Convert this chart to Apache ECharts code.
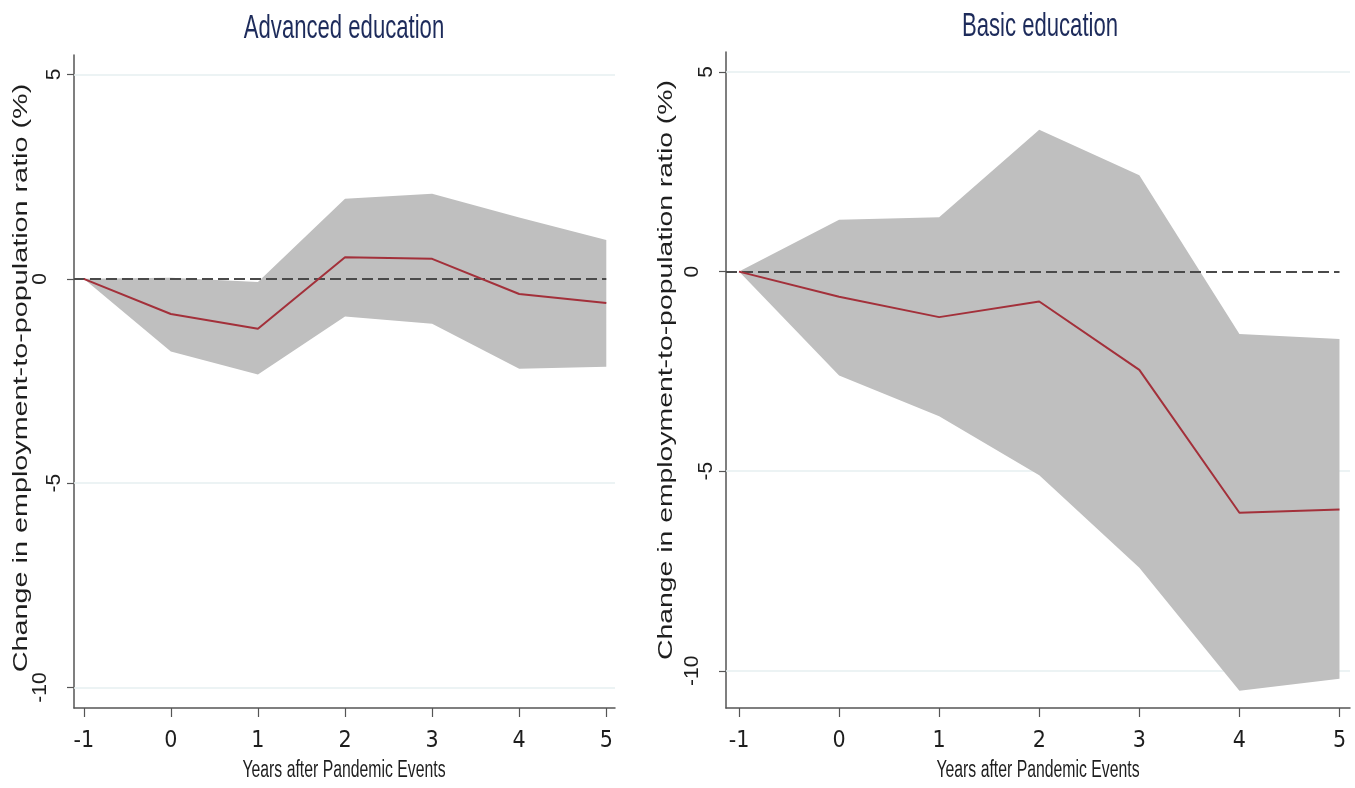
<!DOCTYPE html>
<html>
<head>
<meta charset="utf-8">
<script src="https://cdn.jsdelivr.net/npm/echarts@6/dist/echarts.min.js"></script>
<style>
html,body{margin:0;padding:0;background:#fff;}
#chart{width:1355px;height:788px;}
</style>
</head>
<body>
<div id="chart"></div>
<script>
// ---- data ----
const years = [-1, 0, 1, 2, 3, 4, 5];
const yTicks = [-10, -5, 0, 5];
const gridValues = [5, -5, -10];
const panelTitles = ['Advanced education', 'Basic education'];
const xTitle = 'Years after Pandemic Events';
const yTitle = 'Change in employment-to-population ratio (%)';

const advMean  = [0, -0.86, -1.22, 0.53, 0.49, -0.37, -0.59];
const advUpper = [0, 0.03, -0.08, 1.96, 2.08, 1.50, 0.95];
const advLower = [0, -1.78, -2.34, -0.92, -1.10, -2.20, -2.15];

const basMean  = [0, -0.63, -1.14, -0.75, -2.46, -6.04, -5.96];
const basUpper = [0, 1.30, 1.36, 3.55, 2.41, -1.56, -1.69];
const basLower = [0, -2.60, -3.62, -5.10, -7.42, -10.50, -10.20];

// ---- styling / layout ----
const AXIS_COLOR = '#555';
const BAND_COLOR = '#bfbfbf';
const MEAN_COLOR = '#a3303a';
const GRID_COLOR = '#e6eff0';
const TEXT_COLOR = '#1e1e1e';
const TITLE_COLOR = '#1d2b5b';
const NARROW = '"Liberation Sans Narrow", "DejaVu Sans Condensed", "Liberation Sans", Arial, sans-serif';
const SANS = '"Liberation Sans", Arial, sans-serif';

const panels = [
  {mean: advMean, upper: advUpper, lower: advLower,
   grid: {left: 74, top: 55, width: 541, height: 653},
   xMin: -1.112, xMax: 5.10, yMin: -10.50, yMax: 5.477},
  {mean: basMean, upper: basUpper, lower: basLower,
   grid: {left: 726, top: 52, width: 624, height: 656},
   xMin: -1.13, xMax: 5.105, yMin: -10.93, yMax: 5.50}
];

const pairs = (xs, ys) => xs.map((x, i) => [x, ys[i]]);

const grids = [], xAxes = [], yAxes = [], series = [];
panels.forEach((p, k) => {
  grids.push(p.grid);
  xAxes.push({
    type: 'value', gridIndex: k, min: p.xMin, max: p.xMax,
    axisLine: {show: true, onZero: false, lineStyle: {color: AXIS_COLOR, width: 1.5}},
    axisTick: {show: true, length: 9, customValues: years, lineStyle: {color: AXIS_COLOR, width: 1.2}},
    axisLabel: {show: true, customValues: years, margin: 22, fontFamily: NARROW, fontSize: 23, color: TEXT_COLOR},
    splitLine: {show: false}
  });
  yAxes.push({
    type: 'value', gridIndex: k, min: p.yMin, max: p.yMax,
    axisLine: {show: true, onZero: false, lineStyle: {color: AXIS_COLOR, width: 1.5}},
    axisTick: {show: true, length: 7, customValues: yTicks, lineStyle: {color: AXIS_COLOR, width: 1.2}},
    axisLabel: {
      show: true, customValues: yTicks, rotate: 90, margin: 9,
      formatter: v => (v === 0 || v === -10) ? '{far|' + v + '}' : '{near|' + v + '}',
      rich: {
        near: {fontFamily: SANS, fontSize: 21, color: TEXT_COLOR},
        far: {fontFamily: SANS, fontSize: 21, color: TEXT_COLOR, padding: [0, 0, 14, 0]}
      }
    },
    splitLine: {show: false}
  });
  // faint grid lines (under the band)
  series.push({
    type: 'line', xAxisIndex: k, yAxisIndex: k, z: 1, data: [], silent: true,
    markLine: {
      z: 1, silent: true, symbol: 'none', label: {show: false},
      lineStyle: {color: GRID_COLOR, width: 1.5, type: 'solid'},
      data: gridValues.map(v => ({yAxis: v}))
    }
  });
  // confidence band between lower and upper bounds
  series.push({
    type: 'custom', xAxisIndex: k, yAxisIndex: k, z: 2, silent: true,
    data: pairs(years, p.mean),
    encode: {x: 0, y: 1},
    renderItem: (params, api) => {
      if (params.dataIndex !== 0) return null;
      const top = years.map((x, i) => api.coord([x, p.upper[i]]));
      const bot = years.map((x, i) => api.coord([x, p.lower[i]])).reverse();
      return {type: 'polygon', shape: {points: top.concat(bot)}, style: {fill: BAND_COLOR}};
    }
  });
  // zero reference line
  series.push({
    type: 'line', xAxisIndex: k, yAxisIndex: k, z: 3, data: [], silent: true,
    markLine: {
      z: 3, silent: true, symbol: 'none', label: {show: false},
      lineStyle: {color: '#4a4a4a', width: 1.8, type: [11, 5]},
      data: [[{coord: [p.xMin, 0]}, {coord: [years[years.length - 1], 0]}]]
    }
  });
  // point estimate
  series.push({
    type: 'line', xAxisIndex: k, yAxisIndex: k, z: 4,
    data: pairs(years, p.mean), symbol: 'none', silent: true,
    lineStyle: {color: MEAN_COLOR, width: 2}
  });
});

const graphics = [
  {type: 'text', x: 344, y: 29, scaleX: 0.66,
   style: {text: panelTitles[0], font: '33.5px ' + SANS, fill: TITLE_COLOR, align: 'center', verticalAlign: 'middle', textAlign: 'center', textVerticalAlign: 'middle'}},
  {type: 'text', x: 1040, y: 27, scaleX: 0.66,
   style: {text: panelTitles[1], font: '33.5px ' + SANS, fill: TITLE_COLOR, align: 'center', verticalAlign: 'middle', textAlign: 'center', textVerticalAlign: 'middle'}},
  {type: 'text', x: 344, y: 770.5, scaleX: 0.64,
   style: {text: xTitle, font: '24.7px ' + SANS, fill: TEXT_COLOR, align: 'center', verticalAlign: 'middle', textAlign: 'center', textVerticalAlign: 'middle'}},
  {type: 'text', x: 1038, y: 770.5, scaleX: 0.64,
   style: {text: xTitle, font: '24.7px ' + SANS, fill: TEXT_COLOR, align: 'center', verticalAlign: 'middle', textAlign: 'center', textVerticalAlign: 'middle'}},
  {type: 'text', x: 21, y: 378, rotation: Math.PI / 2, scaleX: 1.37,
   style: {text: yTitle, font: '21px ' + SANS, fill: TEXT_COLOR, align: 'center', verticalAlign: 'middle', textAlign: 'center', textVerticalAlign: 'middle'}},
  {type: 'text', x: 666, y: 370, rotation: Math.PI / 2, scaleX: 1.35,
   style: {text: yTitle, font: '21px ' + SANS, fill: TEXT_COLOR, align: 'center', verticalAlign: 'middle', textAlign: 'center', textVerticalAlign: 'middle'}}
];

const chart = echarts.init(document.getElementById('chart'), null, {renderer: 'canvas'});
chart.setOption({
  animation: false,
  backgroundColor: '#ffffff',
  grid: grids,
  xAxis: xAxes,
  yAxis: yAxes,
  series: series,
  graphic: graphics
});
</script>
</body>
</html>
